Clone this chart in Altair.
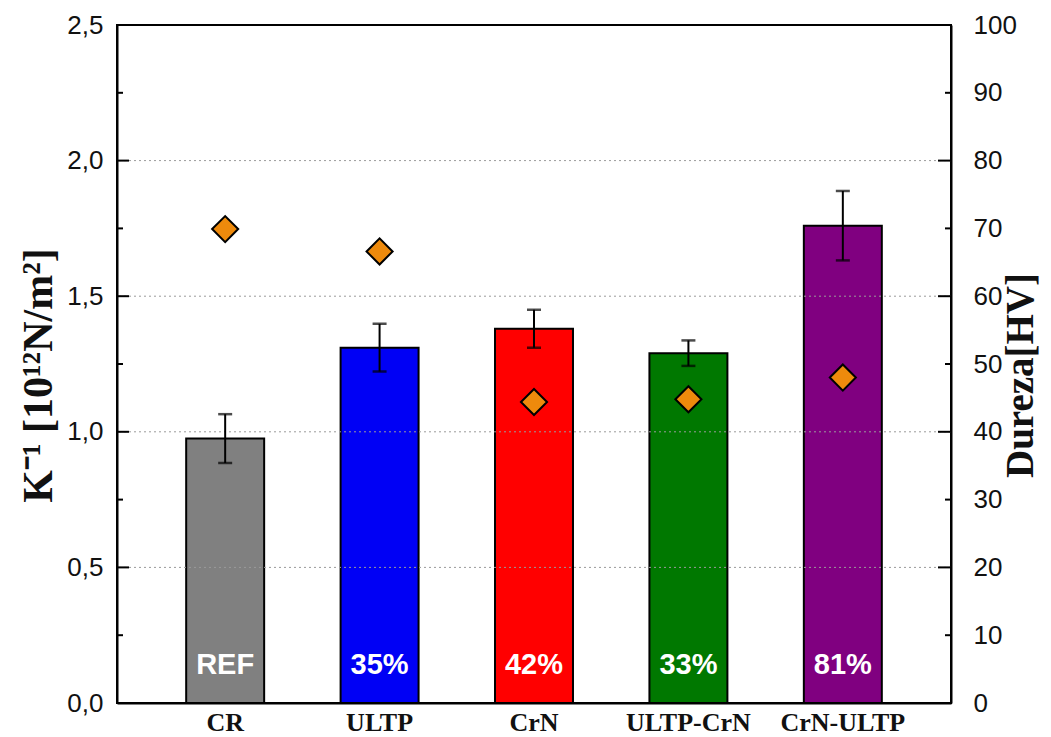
import altair as alt
import pandas as pd

categories = ["CR", "ULTP", "CrN", "ULTP-CrN", "CrN-ULTP"]
k_values = [0.975, 1.31, 1.38, 1.29, 1.76]
k_err = [0.09, 0.088, 0.07, 0.047, 0.128]
dureza = [69.9, 66.6, 44.4, 44.8, 48.0]
bar_labels = ["REF", "35%", "42%", "33%", "81%"]
bar_colors = ["#808080", "#0000F5", "#FF0000", "#007800", "#800080"]
label_pos = [0.139, 0.139, 0.139, 0.139, 0.139]

left_major = [0.0, 0.5, 1.0, 1.5, 2.0, 2.5]
left_minor = [0.25, 0.75, 1.25, 1.75, 2.25]
grid_vals = [0.5, 1.0, 1.5, 2.0]
right_major = [0, 20, 40, 60, 80, 100]
right_minor = [10, 30, 50, 70, 90]

W, H = 834, 678

df = pd.DataFrame({
    "cat": categories,
    "k": k_values,
    "lo": [v - e for v, e in zip(k_values, k_err)],
    "hi": [v + e for v, e in zip(k_values, k_err)],
    "hv": dureza,
    "lab": bar_labels,
    "col": bar_colors,
    "lpos": label_pos,
})

xscale = alt.Scale(paddingInner=0.495, paddingOuter=0.448)
xenc = alt.X("cat:N", sort=categories, scale=xscale,
             axis=alt.Axis(title=None, labelAngle=0, ticks=False,
                           domainColor="black", domainWidth=2,
                           labelFont="Liberation Serif", labelFontWeight="bold",
                           labelFontSize=26, labelColor="#111", labelPadding=6))
xnone = alt.X("cat:N", sort=categories, scale=xscale)

yscale = alt.Scale(domain=[0, 2.5], nice=False, zero=True)
ynone = lambda f: alt.Y(f, scale=yscale)

base = alt.Chart(df)

bars = base.mark_bar(stroke="black", strokeWidth=2).encode(
    x=xenc,
    y=alt.Y("k:Q", scale=yscale,
            axis=alt.Axis(values=left_major, title="K⁻¹ [10¹²N/m²]",
                          labelExpr="replace(format(datum.value, '.1f'), '.', ',')",
                          ticks=False, grid=False, domainColor="black", domainWidth=2,
                          labelFont="Liberation Sans", labelFontSize=26, labelColor="#111",
                          labelPadding=14,
                          titleFont="Liberation Serif", titleFontWeight="bold",
                          titleFontSize=42, titleColor="#111", titlePadding=6,
                          titleY=350)),
    color=alt.Color("col:N", scale=None),
)

grid = alt.Chart(pd.DataFrame({"g": grid_vals})).mark_rule(
    color="#9a9a9a", strokeDash=[2, 3], strokeWidth=1
).encode(y=ynone("g:Q"))

err = base.mark_rule(color="black", strokeWidth=2).encode(
    x=xnone, y=ynone("lo:Q"), y2="hi:Q")
cap_lo = base.mark_tick(color="black", thickness=2.5, size=14, orient="horizontal").encode(
    x=xnone, y=ynone("lo:Q"))
cap_hi = base.mark_tick(color="black", thickness=2.5, size=14, orient="horizontal").encode(
    x=xnone, y=ynone("hi:Q"))

txt = base.mark_text(color="white", font="Liberation Sans", fontWeight="bold",
                     fontSize=29, baseline="middle").encode(
    x=xnone, y=ynone("lpos:Q"), text="lab:N")

lticks_major = alt.Chart(pd.DataFrame({"v": left_major})).mark_rule(
    color="black", strokeWidth=2).encode(y=ynone("v:Q"), x=alt.value(0), x2=alt.value(12))
lticks_minor = alt.Chart(pd.DataFrame({"v": left_minor})).mark_rule(
    color="black", strokeWidth=2).encode(y=ynone("v:Q"), x=alt.value(0), x2=alt.value(6))

left = alt.layer(bars, grid, err, cap_lo, cap_hi, txt, lticks_major, lticks_minor)

rscale = alt.Scale(domain=[0, 100], nice=False)
rnone = lambda f: alt.Y(f, scale=rscale)

diamonds = base.mark_point(shape="diamond", filled=True, fill="#EE8A0C",
                           stroke="black", strokeWidth=2, size=680, opacity=1).encode(
    x=xnone,
    y=alt.Y("hv:Q", scale=rscale,
            axis=alt.Axis(orient="right", values=list(range(0, 101, 10)),
                          title="Dureza[HV]", ticks=False, grid=False,
                          domainColor="black", domainWidth=2,
                          labelFont="Liberation Sans", labelFontSize=26, labelColor="#111",
                          labelPadding=22,
                          titleFont="Liberation Serif", titleFontWeight="bold",
                          titleFontSize=39, titleColor="#111", titleAngle=270,
                          titleBaseline="top", titleX=50, titleY=350)),
)
rticks_major = alt.Chart(pd.DataFrame({"v": right_major})).mark_rule(
    color="black", strokeWidth=2).encode(y=rnone("v:Q"), x=alt.value(W), x2=alt.value(W - 13))
rticks_minor = alt.Chart(pd.DataFrame({"v": right_minor})).mark_rule(
    color="black", strokeWidth=2).encode(y=rnone("v:Q"), x=alt.value(W), x2=alt.value(W - 6))

right = alt.layer(diamonds, rticks_major, rticks_minor)

chart = alt.layer(left, right).resolve_scale(y="independent").properties(
    width=W, height=H,
    background="white",
    autosize=alt.AutoSizeParams(type="none"),
    padding={"left": 109, "top": 17, "right": 92, "bottom": 36},
).configure_view(stroke="black", strokeWidth=2)

chart.save("out.html", embed_options={"renderer": "svg", "actions": False})
